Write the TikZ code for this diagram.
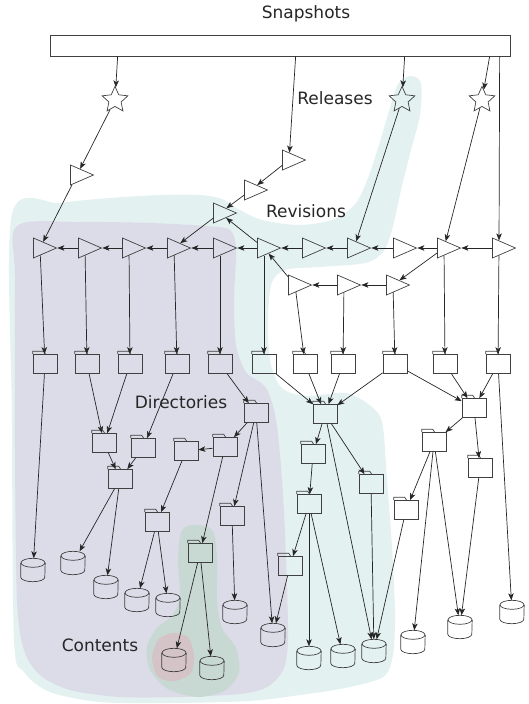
\documentclass[tikz,border=0pt]{standalone}
\usepackage{fontspec}
\setmainfont{DejaVu Sans}
\usetikzlibrary{shapes.geometric,arrows.meta}
\definecolor{revbg}{RGB}{227,241,240}
\definecolor{dirbg}{RGB}{220,219,232}
\definecolor{cntbg}{RGB}{200,217,211}
\definecolor{selbg}{RGB}{213,196,199}
\begin{document}
\begin{tikzpicture}[x=1pt,y=-1pt,
    >={Stealth[length=7pt,width=5.5pt,inset=1.8pt]},
    every node/.style={inner sep=0pt},
    rel/.style={draw=black!75,line width=0.7pt,star,star points=5,star point ratio=2.1,minimum size=27pt},
    rev/.style={draw=black!75,line width=0.7pt,isosceles triangle,isosceles triangle stretches,minimum width=20pt,minimum height=23pt},
    dir/.style={draw=black!75,line width=0.7pt,rectangle,minimum width=24pt,minimum height=19pt},
    cnt/.style={rectangle,minimum width=24pt,minimum height=23pt},
    lbl/.style={text=black!85,font=\fontsize{17}{20}\selectfont}]
  \useasboundingbox (0,0) rectangle (529,704);
  % coloured regions
  \fill[revbg] plot[smooth cycle] coordinates {(12,214) (60,203) (110,198) (160,195) (200,195) (222,199) (238,209) (262,220) (300,225) (335,219) (356,203) (368,178) (378,148) (390,108) (398,84) (410,76) (421,83) (420,115) (411,150) (401,190) (392,230) (383,252) (365,263) (320,267) (285,270) (271,285) (268,330) (271,365) (282,388) (305,396) (345,393) (368,404) (382,422) (387,480) (392,547) (395,613) (393,655) (383,677) (345,688) (300,695) (250,701) (170,703) (100,702) (50,692) (24,672) (14,640) (12,420)};
  \fill[dirbg] plot[smooth cycle] coordinates {(17,226) (80,222) (150,223) (205,226) (230,230) (236,250) (234,300) (236,345) (246,372) (266,388) (276,420) (282,480) (286,560) (288,640) (283,670) (267,687) (240,694) (180,697) (120,697) (70,690) (40,675) (24,650) (17,600) (15,450) (15,280)};
  \fill[cntbg] plot[smooth cycle] coordinates {(182,530) (197,525) (213,531) (217,560) (217,600) (222,628) (236,648) (239,672) (226,690) (198,697) (168,689) (150,670) (147,647) (157,628) (173,615) (180,595) (178,560)};
  \fill[selbg] plot[smooth cycle] coordinates {(158,640) (172,633) (188,637) (194,655) (191,673) (175,681) (158,677) (152,658)};
  % labels
  \draw
    (306,14) node[lbl] (tsnap){Snapshots}
    (335,98) node[lbl] (trel){Releases}
    (306,211) node[lbl] (trev){Revisions}
    (181,402) node[lbl] (tdir){Directories}
    (100,645) node[lbl] (tcnt){Contents};
  % snapshots and releases
  \draw
    (280,45.5) node[draw=black!75,line width=0.7pt,minimum width=460pt,minimum height=21pt] (snap){}
    (115,100) node[rel] (s0){}
    (402,100) node[rel] (s1){}
    (482,100) node[rel] (s2){};
  % revisions
  \draw
    (77,175) node[rev] (a0){}
    (289,160) node[rev] (b0){}
    (251,190) node[rev] (b1){}
    (220,213) node[rev] (b2){}
    (40,248) node[rev] (r0){}
    (85,248) node[rev] (r1){}
    (129,248) node[rev] (r2){}
    (174,248) node[rev] (r3){}
    (220,248) node[rev] (r4){}
    (264,248) node[rev] (r5){}
    (309,248) node[rev] (r6){}
    (354,248) node[rev] (r7){}
    (400,248) node[rev] (r8){}
    (444,248) node[rev] (r9){}
    (499,248) node[rev] (r10){}
    (295,285) node[rev] (q0){}
    (344,285) node[rev] (q1){}
    (393,285) node[rev] (q2){};
  % directories
  \draw
    (45,364) node[dir] (d0){}
    (87,364) node[dir] (d1){}
    (130,364) node[dir] (d2){}
    (177,364) node[dir] (d3){}
    (220,364) node[dir] (d4){}
    (264,364) node[dir] (d5){}
    (305,364) node[dir] (d6){}
    (343,364) node[dir] (d7){}
    (395,364) node[dir] (d8){}
    (445,364) node[dir] (d9){}
    (498,364) node[dir] (d10){}
    (256,413) node[dir] (u0){}
    (104,443) node[dir] (u1){}
    (143,448) node[dir] (u2){}
    (186,451) node[dir] (u3){}
    (225,447) node[dir] (u4){}
    (120,479) node[dir] (u5){}
    (157,522) node[dir] (u6){}
    (232,516) node[dir] (u7){}
    (200,553) node[dir] (u8){}
    (325,414) node[dir] (u9){}
    (313,454) node[dir] (u10){}
    (371,484) node[dir] (u11){}
    (309,504) node[dir] (u12){}
    (290,566) node[dir] (u13){}
    (474,408) node[dir] (u14){}
    (434,442) node[dir] (u15){}
    (480,468) node[dir] (u16){}
    (406,510) node[dir] (u17){};
  \foreach \i in {0,...,10}
    \draw[black!75,line width=0.7pt] (d\i.north west) -- ++(0,-3) -- ++(11,0) -- ++(2,3);
  \foreach \i in {0,...,17}
    \draw[black!75,line width=0.7pt] (u\i.north west) -- ++(0,-3) -- ++(11,0) -- ++(2,3);
  % contents
  \draw
    (33,570) node[cnt] (c0){}
    (73,563) node[cnt] (c1){}
    (106,587) node[cnt] (c2){}
    (137,600) node[cnt] (c3){}
    (168,605) node[cnt] (c4){}
    (235,612) node[cnt] (c5){}
    (273,635) node[cnt] (c6){}
    (174,660) node[cnt] (c7){}
    (212,668) node[cnt] (c8){}
    (309,658) node[cnt] (c9){}
    (343,656) node[cnt] (c10){}
    (374,651) node[cnt] (c11){}
    (413,642) node[cnt] (c12){}
    (460,627) node[cnt] (c13){}
    (512,612) node[cnt] (c14){};
  \foreach \i in {0,...,14} {
    \draw[black!75,line width=0.7pt] ([yshift=-4.5pt]c\i.north) ellipse [x radius=12, y radius=4.5];
    \draw[black!75,line width=0.7pt] ([yshift=-4.5pt]c\i.north west) -- ([yshift=4.5pt]c\i.south west)
      arc[start angle=180, end angle=0, x radius=12, y radius=4.5] -- ([yshift=-4.5pt]c\i.north east);
  }
  \begin{scope}[->,black!85,line width=0.7pt]
    \draw ([xshift=68pt]snap.south west) to (s0);
    \draw ([xshift=246pt]snap.south west) to (b0);
    \draw ([xshift=355pt]snap.south west) to (s1);
    \draw ([xshift=440pt]snap.south west) to (s2);
    \draw ([xshift=450pt]snap.south west) to (r10);
    \draw (s0) to (a0);
    \draw (a0) to (r0);
    \draw (b0) to (b1);
    \draw (b1) to (b2);
    \draw (b2) to (r3);
    \draw (r5) to (b2);
    \draw (s1) to (r7);
    \draw (s2) to (r9);
    \draw (r1) to (r0);
    \draw (r2) to (r1);
    \draw (r3) to (r2);
    \draw (r4) to (r3);
    \draw (r5) to (r4);
    \draw (r6) to (r5);
    \draw (r7) to (r6);
    \draw (r8) to (r7);
    \draw (r9) to (r8);
    \draw (r10) to (r9);
    \draw (r9) to (q2);
    \draw (q2) to (q1);
    \draw (q1) to (q0);
    \draw (q0) to (r5);
    \draw (r0) to (d0);
    \draw (r1) to (d1);
    \draw (r2) to (d2);
    \draw (r3) to (d3);
    \draw (r4) to (d4);
    \draw (r5) to (d5);
    \draw (q0) to (d6);
    \draw (q1) to (d7);
    \draw (q2) to (d8);
    \draw (r9) to (d9);
    \draw (r10) to (d10);
    \draw (d0) to (c0);
    \draw (d1) to (u1);
    \draw (d2) to (u1);
    \draw (d3) to (u2);
    \draw (d4) to (u0);
    \draw (d5) to (u9);
    \draw (d6) to (u9);
    \draw (d7) to (u9);
    \draw (d8) to (u9);
    \draw (d8) to (u14);
    \draw (d9) to (u14);
    \draw (d10) to (u14);
    \draw (d10) to (c14);
    \draw (u0) to (u4);
    \draw (u0) to (u7);
    \draw (u0) to (c6);
    \draw (u1) to (u5);
    \draw (u2) to (u5);
    \draw (u5) to (c1);
    \draw (u5) to (c2);
    \draw (u4) to (u3);
    \draw (u4) to (u8);
    \draw (u3) to (u6);
    \draw (u6) to (c3);
    \draw (u6) to (c4);
    \draw (u7) to (c5);
    \draw (u8) to (c7);
    \draw (u8) to (c8);
    \draw (u9) to (u10);
    \draw (u9) to (u11);
    \draw (u9) to (c11);
    \draw (u10) to (u12);
    \draw (u12) to (u13);
    \draw (u12) to (c9);
    \draw (u12) to (c10);
    \draw (u13) to (c6);
    \draw (u11) to (c11);
    \draw (u14) to (u15);
    \draw (u14) to (u16);
    \draw (u15) to (u17);
    \draw (u15) to (c12);
    \draw (u15) to (c13);
    \draw (u16) to (c13);
    \draw (u17) to (c11);
  \end{scope}
\end{tikzpicture}
\end{document}
